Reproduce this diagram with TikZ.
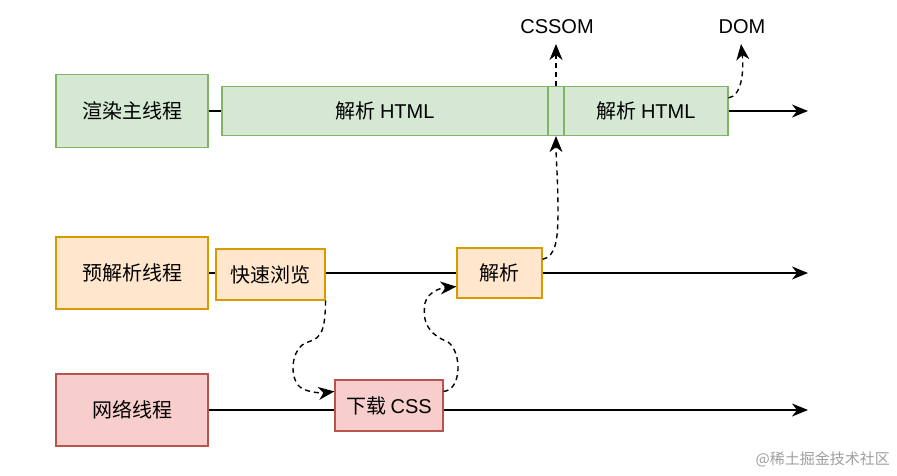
\documentclass[tikz,border=0pt]{standalone}
\usepackage{fontspec}
\setmainfont{Noto Sans CJK SC}
\newfontfamily\lat{Liberation Sans}
\usetikzlibrary{arrows.meta}
\definecolor{gfill}{HTML}{D5E8D4}\definecolor{gline}{HTML}{82B366}
\definecolor{ofill}{HTML}{FFE6CC}\definecolor{oline}{HTML}{D79B00}
\definecolor{rfill}{HTML}{F8CECC}\definecolor{rline}{HTML}{B85450}
\tikzset{
  box/.style={draw, line width=1.2pt, inner sep=0pt, font=\fontsize{20}{22}\selectfont},
  gbox/.style={box, fill=gfill, draw=gline},
  obox/.style={box, fill=ofill, draw=oline},
  rbox/.style={box, fill=rfill, draw=rline},
  tl/.style={line width=1.4pt, draw=black},
  arr/.style={tl, -{Stealth[length=16pt,width=13pt,inset=5pt]}},
  darr/.style={arr, dash pattern=on 5pt off 4pt},
  lbl/.style={font=\lat\fontsize{20}{22}\selectfont, inner sep=0pt}
}
\begin{document}
\begin{tikzpicture}[x=1pt,y=-1pt]
\useasboundingbox (0,0) rectangle (897,476);
% row 1
\node[gbox, minimum width=152pt, minimum height=73pt] (main) at (132,111) {渲染主线程};
\node[gbox, minimum width=326pt, minimum height=49pt] (p1) at (385,111) {解析 {\lat HTML}};
\node[gbox, minimum width=16pt, minimum height=49pt] (sm) at (556,111) {};
\node[gbox, minimum width=164pt, minimum height=49pt] (p2) at (646,111) {解析 {\lat HTML}};
\coordinate (e1) at (808,111);
\draw[tl] (main.east) -- (p1.west);
\draw[arr] (p2.east) -- (e1);
\node[lbl] (cssom) at (557,27) {CSSOM};
\node[lbl] (dom) at (742,27) {DOM};
\draw[darr] (sm.north) -- (556,44);
\draw[darr] ([yshift=-12pt]p2.north east) .. controls (742,96) and (744,70) .. (741,44);
% row 2
\node[obox, minimum width=152pt, minimum height=72pt] (pre) at (132,273) {预解析线程};
\node[obox, minimum width=109pt, minimum height=51pt] (scan) at (270.5,274.5) {快速浏览};
\node[obox, minimum width=85pt, minimum height=50pt] (parse) at (499.5,273) {解析};
\coordinate (e2) at (808,273);
\draw[tl] (pre.east) -- (scan.west|-pre.east);
\draw[tl] (scan.east|-pre.east) -- (parse.west);
\draw[arr] (parse.east) -- (e2);
% row 3
\node[rbox, minimum width=152pt, minimum height=72pt] (net) at (132,410) {网络线程};
\node[rbox, minimum width=108pt, minimum height=51pt] (dl) at (389,405.5) {下载 {\lat CSS}};
\coordinate (e3) at (808,410);
\draw[tl] (net.east) -- (dl.west|-net.east);
\draw[arr] (dl.east|-net.east) -- (e3);
% dashed curves
\draw[darr] (scan.south east) .. controls (325,330) and (322,338) .. (308,342)
   .. controls (290,347) and (288,382) .. (303,389) .. controls (312,393) and (322,393) .. ([yshift=-12pt]dl.north west);
\draw[darr] ([yshift=-12pt]dl.north east) .. controls (462,390) and (462,352) .. (448,342)
   .. controls (428,334) and (422,322) .. (425,303) .. controls (428,292) and (440,288) .. ([yshift=12pt]parse.south west);
\draw[darr] ([yshift=-12pt]parse.north east) .. controls (556,256) and (558,240) .. (558,210)
   .. controls (558,180) and (556,160) .. (sm.south);
% watermark
\node[font=\fontsize{15}{17}\selectfont, text=black!38, anchor=east, inner sep=0pt] (wm) at (890,459) {@稀土掘金技术社区};
\end{tikzpicture}
\end{document}
